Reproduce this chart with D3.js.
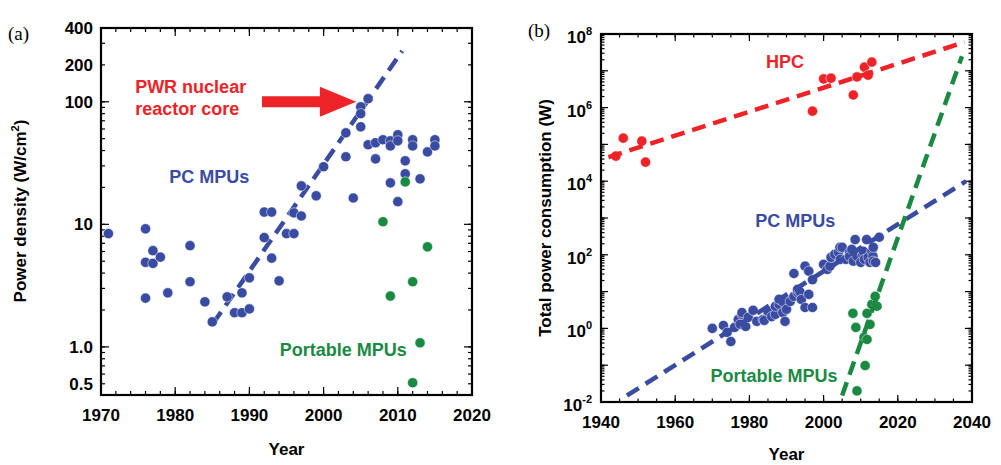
<!DOCTYPE html>
<html>
<head>
<meta charset="utf-8">
<script src="https://cdn.jsdelivr.net/npm/d3@7"></script>
<style>
  body { margin: 0; background: #fff; }
  svg { display: block; }
  text { font-family: "Liberation Sans", Arial, sans-serif; font-weight: bold; }
  text.panel { font-family: "Liberation Serif", "Times New Roman", serif; font-weight: normal; }
</style>
</head>
<body>
<svg id="chart" width="1001" height="465"></svg>
<script>
// ---- panel (a): power density ----
const pcDensity = [
  [1971, 8.4], [1976, 9.2], [1976, 4.9], [1976, 2.5], [1977, 6.1], [1977, 4.8],
  [1978, 5.4], [1979, 2.76], [1982, 6.7], [1982, 3.4], [1984, 2.33], [1985, 1.6],
  [1987, 2.56], [1988, 1.9], [1989, 1.9], [1989, 2.76], [1990, 2.04], [1990, 3.66],
  [1992, 12.6], [1992, 7.8], [1993, 12.6], [1993, 5.3], [1994, 3.46], [1995, 8.4],
  [1996, 8.4], [1996, 12.4], [1997, 11.7], [1997, 20.6], [1999, 17.1], [2000, 29.5],
  [2003, 55.8], [2003, 35.6], [2004, 16.4], [2005, 91], [2005, 80], [2005, 62.5],
  [2006, 106], [2006, 44.6], [2007, 46.3], [2007, 34.2], [2008, 49], [2009, 48],
  [2009, 43.6], [2009, 21.8], [2010, 53.8], [2010, 48], [2010, 15.3], [2011, 33],
  [2011, 25.8], [2012, 49], [2012, 43.6], [2013, 23.5], [2014, 39], [2015, 49], [2015, 43.6]
];
const portableDensity = [
  [2008, 10.5], [2009, 2.6], [2011, 22.2], [2012, 3.4], [2012, 0.51], [2013, 1.08], [2014, 6.55]
];
const pcDensityFit = [[1985.1, 1.55], [2010.6, 260]];
const arrowA = { tail: 1991.7, headBase: 1999.5, tip: 2004.4, value: 100 };

const yearTicksA = [1970, 1980, 1990, 2000, 2010, 2020];
const densityTicks = [0.5, 1, 10, 100, 200, 400];
const densityTickLabels = ["0.5", "1.0", "10", "100", "200", "400"];

// ---- panel (b): total power ----
const hpcPower = [
  [1944, 4.8e4], [1946, 1.48e5], [1951, 1.23e5], [1952, 3.3e4], [1997, 8e5], [2000, 6e6],
  [2002, 6.3e6], [2008, 2.2e6], [2009, 6.8e6], [2011, 1.26e7], [2012, 7.6e6], [2013, 1.73e7]
];
const pcPower = [
  [1970, 1.0], [1973, 1.2], [1974, 0.78], [1975, 0.44], [1976, 1.06], [1977, 1.75],
  [1977.5, 1.3], [1978, 2.4], [1978, 2.7], [1979, 1.13], [1979.7, 2.0], [1981, 3.1],
  [1982, 1.55], [1983.7, 1.75], [1984, 1.65], [1985, 2.9], [1986, 2.1], [1987, 2.4],
  [1987, 4.0], [1988, 4.5], [1988, 6.2], [1989, 5.4], [1989, 2.7], [1989.6, 1.55],
  [1990, 3.3], [1991, 5.4], [1992, 31], [1992, 7.4], [1993, 9.5], [1993, 11.5],
  [1993.6, 10], [1994, 6.1], [1995, 49], [1995, 3.7], [1996, 8.4], [1996, 36],
  [1997, 3.7], [1997, 21], [2000, 55], [2001, 40], [2001.7, 49], [2002, 85],
  [2003, 103], [2004, 117], [2004.4, 160], [2004.5, 75], [2005, 160], [2006, 75],
  [2007, 117], [2007, 91], [2007.6, 140], [2008, 67], [2008.5, 260], [2009, 91],
  [2010, 62], [2010.5, 103], [2010.7, 125], [2011, 75], [2011.6, 260], [2012, 85],
  [2012.5, 62], [2013, 125], [2013.3, 91], [2013.4, 160], [2013.4, 67], [2014, 62],
  [2015, 300]
];
const portablePower = [
  [2007.9, 2.56], [2008.7, 1.06], [2010.9, 0.57], [2011.7, 0.5], [2011.2, 0.098],
  [2009, 0.02], [2012.5, 1.28], [2011.7, 2.56], [2013, 4.5], [2014.4, 4.0], [2013.9, 7.4]
];
const hpcFit = [[1942, 4.5e4], [2038, 6e7]];
const pcPowerFit = [[1947, 0.015], [2038.4, 1e4]];
const portableFit = [[2005, 0.015], [2037.3, 2.5e7]];

const yearTicksB = [1940, 1960, 1980, 2000, 2020, 2040];
const powerExponents = [-2, 0, 2, 4, 6, 8];

const BLUE = "#3a4ba2", RED = "#ee2328", GREEN = "#1a8a43";

const svg = d3.select("#chart");

const xA = d3.scaleLinear().domain([1970, 2020]).range([101, 472]);
const yA = d3.scaleLog().domain([0.405, 400]).range([395, 28]);
const xB = d3.scaleLinear().domain([1940, 2040]).range([601, 972]);
const yB = d3.scaleLog().domain([1e-2, 1e8]).range([402, 34]);

function logMinor(lo, hi) {
  const out = [];
  for (let e = Math.floor(Math.log10(lo)); e <= Math.ceil(Math.log10(hi)); e++) {
    for (let m = 1; m < 10; m++) {
      const v = m * Math.pow(10, e);
      if (v >= lo * 0.999 && v <= hi * 1.001) out.push(v);
    }
  }
  return out;
}

function frame(g, x, y, xMinor, xMajor, yMinor, yMajor, minLen, majLen) {
  const [x0, x1] = x.range(), [y1, y0] = y.range();
  const ticks = g.append("g").attr("stroke", "#000").attr("stroke-width", 1.2);
  const addX = (vals, len) => vals.forEach(v => {
    ticks.append("line").attr("x1", x(v)).attr("x2", x(v)).attr("y1", y1).attr("y2", y1 - len);
    ticks.append("line").attr("x1", x(v)).attr("x2", x(v)).attr("y1", y0).attr("y2", y0 + len);
  });
  const addY = (vals, len) => vals.forEach(v => {
    ticks.append("line").attr("y1", y(v)).attr("y2", y(v)).attr("x1", x0).attr("x2", x0 + len);
    ticks.append("line").attr("y1", y(v)).attr("y2", y(v)).attr("x1", x1).attr("x2", x1 - len);
  });
  addX(xMinor, minLen); addX(xMajor, majLen);
  addY(yMinor, minLen); addY(yMajor, majLen);
  g.append("rect")
    .attr("x", x0).attr("y", y0).attr("width", x1 - x0).attr("height", y1 - y0)
    .attr("fill", "none").attr("stroke", "#000").attr("stroke-width", 2.2);
}

function dashed(g, x, y, pts, color) {
  g.append("path")
    .attr("d", d3.line().x(d => x(d[0])).y(d => y(d[1]))(pts))
    .attr("fill", "none").attr("stroke", color)
    .attr("stroke-width", 4.5).attr("stroke-dasharray", "14,8");
}

function dots(g, x, y, pts, color) {
  g.append("g").selectAll("circle").data(pts).join("circle")
    .attr("cx", d => x(d[0])).attr("cy", d => y(d[1])).attr("r", 5.1)
    .attr("fill", color).attr("stroke", "#fff").attr("stroke-width", 0.5);
}

function label(g, x, y, txt, color, size) {
  return g.append("text").attr("x", x).attr("y", y).attr("fill", color)
    .attr("font-size", size || 18).text(txt);
}

// ===== panel (a) =====
const gA = svg.append("g");
frame(gA, xA, yA, d3.range(1970, 2021, 2), yearTicksA,
  logMinor(0.5, 400), [1, 10, 100], 4, 8);

dashed(gA, xA, yA, pcDensityFit, BLUE);
dots(gA, xA, yA, pcDensity, BLUE);
dots(gA, xA, yA, portableDensity, GREEN);

gA.append("path")
  .attr("d", () => {
    const yc = yA(arrowA.value);
    const t = xA(arrowA.tail), hb = xA(arrowA.headBase), tp = xA(arrowA.tip);
    return `M${t},${yc - 5.5}L${hb},${yc - 5.5}L${hb},${yc - 15}L${tp},${yc}` +
      `L${hb},${yc + 15}L${hb},${yc + 5.5}L${t},${yc + 5.5}Z`;
  })
  .attr("fill", RED);

gA.append("g").attr("text-anchor", "middle").attr("font-size", 17)
  .selectAll("text").data(yearTicksA).join("text")
  .attr("x", d => xA(d)).attr("y", 421).text(d => d);
gA.append("g").attr("text-anchor", "end").attr("font-size", 17)
  .selectAll("text").data(densityTicks).join("text")
  .attr("x", 93).attr("y", d => yA(d) + 6).text((d, i) => densityTickLabels[i]);

label(gA, xA(1995), 455, "Year", "#000", 17).attr("text-anchor", "middle");
const ylA = gA.append("text").attr("transform", "translate(26,211) rotate(-90)")
  .attr("text-anchor", "middle").attr("font-size", 17);
ylA.append("tspan").text("Power density (W/cm");
ylA.append("tspan").attr("dy", -7).attr("font-size", 11).text("2");
ylA.append("tspan").attr("dy", 7).text(")");

label(gA, 8, 40, "(a)", "#000", 19).attr("class", "panel");
label(gA, xA(1974.6), 93, "PWR nuclear", RED);
label(gA, xA(1974.6), 115, "reactor core", RED);
label(gA, xA(1979.2), 183, "PC MPUs", BLUE);
label(gA, xA(1994.1), 356, "Portable MPUs", GREEN);

// ===== panel (b) =====
const gB = svg.append("g");
frame(gB, xB, yB, d3.range(1940, 2041, 5), yearTicksB,
  logMinor(1e-2, 1e8), d3.range(-2, 9).map(e => Math.pow(10, e)), 3.5, 7);

dots(gB, xB, yB, hpcPower, RED);
dots(gB, xB, yB, pcPower, BLUE);
dots(gB, xB, yB, portablePower, GREEN);
dashed(gB, xB, yB, hpcFit, RED);
dashed(gB, xB, yB, pcPowerFit, BLUE);
dashed(gB, xB, yB, portableFit, GREEN);

gB.append("g").attr("text-anchor", "middle").attr("font-size", 17)
  .selectAll("text").data(yearTicksB).join("text")
  .attr("x", d => xB(d)).attr("y", 428).text(d => d);
gB.append("g").attr("text-anchor", "end").attr("font-size", 17)
  .selectAll("text").data(powerExponents).join("text")
  .attr("x", 592).attr("y", d => yB(Math.pow(10, d)) + 9)
  .call(t => t.append("tspan").text("10"))
  .call(t => t.append("tspan").attr("dy", -8).attr("font-size", 11).text(d => d));

label(gB, xB(1990), 460, "Year", "#000", 17).attr("text-anchor", "middle");
gB.append("text").attr("transform", "translate(551,218) rotate(-90)")
  .attr("text-anchor", "middle").attr("font-size", 17).text("Total power consumption (W)");

label(gB, 528, 37, "(b)", "#000", 19).attr("class", "panel");
label(gB, xB(1984.5), 68, "HPC", RED);
label(gB, xB(1981.6), 227, "PC MPUs", BLUE);
label(gB, xB(1969.5), 382, "Portable MPUs", GREEN);
</script>
</body>
</html>
